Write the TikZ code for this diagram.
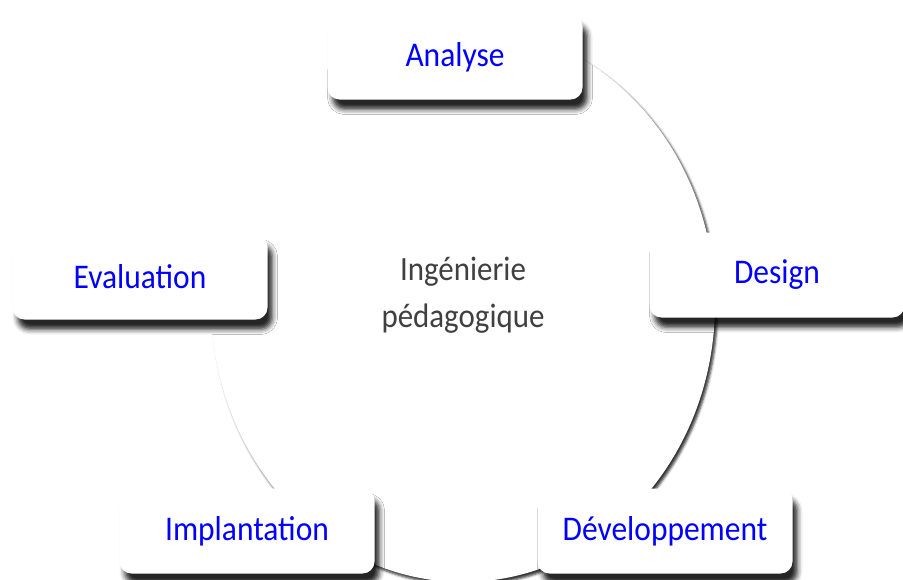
\documentclass[tikz,border=0pt]{standalone}
\usepackage{fontspec}
\setmainfont{Carlito}
\newfontfamily\phasefont[FakeStretch=0.91]{Carlito}
\usetikzlibrary{shadows.blur}

\begin{document}
\begin{tikzpicture}[x=0.5pt,y=-0.5pt,
  phase node/.style={rectangle,rounded corners=6pt,fill=white,
  font=\phasefont\fontsize{17.3}{20}\selectfont,text=blue,
  minimum width=127.5pt,minimum height=42.5pt,
  blur shadow={shadow xshift=2.5pt,shadow yshift=-5pt,
  shadow blur radius=2.5pt,shadow opacity=85}},
  center node/.style={align=center,text=black!75,
  font=\phasefont\fontsize{17}{23.5}\selectfont}]

  \useasboundingbox (0,0) rectangle (903,579);

  %the cycle behind the five phases, only its shadow shows
  \path[fill=white,
    blur shadow={shadow xshift=1.2pt,shadow yshift=-1.5pt,
    shadow blur radius=1.2pt,shadow opacity=80}]
    (463,304) ellipse (126pt and 139pt);

  \node[center node] (IP) at (463,295) {Ingénierie\\pédagogique};

  %phases, clockwise from the top
  \node[phase node] (A) at (455,57) {Analyse};
  \node[phase node] (D) at (777,275) {Design};
  \node[phase node] (Dev) at (665,531) {Développement};
  \node[phase node] (I) at (247,531) {Implantation};
  \node[phase node] (E) at (140,277) {Evaluation};

\end{tikzpicture}
\end{document}
